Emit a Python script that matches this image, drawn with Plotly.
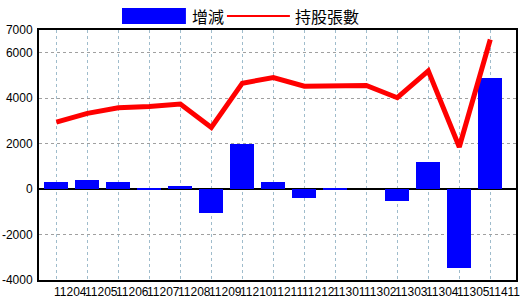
import plotly.graph_objects as go

labels = ["11204", "11205", "11206", "11207", "11208", "11209", "11210", "11211",
          "11212", "11301", "11302", "11303", "11304", "11305", "11411"]
change = [300, 400, 300, 50, 130, -1050, 2000, 300, -400, 50, 0, -520, 1190, -3450, 4880]
holders = [2950, 3330, 3580, 3630, 3740, 2710, 4660, 4910, 4530, 4560, 4560, 4020, 5200, 1850, 6580]
yticks = [-4000, -2000, 0, 2000, 4000, 6000, 7000]

pos = list(range(len(labels)))
label_pos = [p + 0.45 for p in pos]

tick_font = dict(family="Liberation Sans Narrow, Arial Narrow, Liberation Sans", size=12, color="black")
cjk = "Noto Sans CJK TC"

fig = go.Figure()
fig.add_trace(go.Bar(x=pos, y=change, width=0.77, marker=dict(color="#0000FF", line=dict(width=0)),
                     name="增減", showlegend=False))
fig.add_trace(go.Scatter(x=pos, y=holders, mode="lines", line=dict(color="#FF0000", width=5),
                         name="持股張數", showlegend=False))

fig.update_layout(
    width=520, height=300,
    margin=dict(l=39, r=4, t=30, b=20),
    paper_bgcolor="white", plot_bgcolor="white",
    bargap=0,
    xaxis=dict(
        range=[-0.56, 14.83], automargin=False, ticklabeloverflow="allow",
        tickmode="array", tickvals=label_pos, ticktext=labels,
        ticks="", ticklen=0, showgrid=False, zeroline=False,
        showline=True, mirror=True, linecolor="black", linewidth=2,
        tickfont=tick_font, tickangle=0,
        minor=dict(tickmode="array", tickvals=pos, showgrid=True,
                   gridcolor="#9fbccc", griddash="dot", gridwidth=1, ticks=""),
    ),
    yaxis=dict(
        range=[-4000, 7000], automargin=False, ticklabeloverflow="allow",
        tickmode="array", tickvals=yticks, ticktext=[str(v) for v in yticks],
        ticks="", showgrid=True, gridcolor="#a0a0a0", griddash="dot", gridwidth=1,
        zeroline=True, zerolinecolor="black", zerolinewidth=2,
        showline=True, mirror=True, linecolor="black", linewidth=2,
        tickfont=tick_font, ticklabelstandoff=2,
    ),
    shapes=[
        dict(type="rect", xref="paper", yref="paper", x0=0.174, x1=0.308, y0=1.024, y1=1.088,
             fillcolor="#0000FF", line=dict(width=0)),
        dict(type="line", xref="paper", yref="paper", x0=0.394, x1=0.526, y0=1.056, y1=1.056,
             line=dict(color="#FF0000", width=2)),
    ],
    annotations=[
        dict(xref="paper", yref="paper", x=0.316, y=1.056, text="增減", showarrow=False,
             xanchor="left", yanchor="middle", font=dict(family=cjk, size=16, color="black")),
        dict(xref="paper", yref="paper", x=0.532, y=1.056, text="持股張數", showarrow=False,
             xanchor="left", yanchor="middle", font=dict(family=cjk, size=16, color="black")),
    ],
)

fig.write_html("out.html")
